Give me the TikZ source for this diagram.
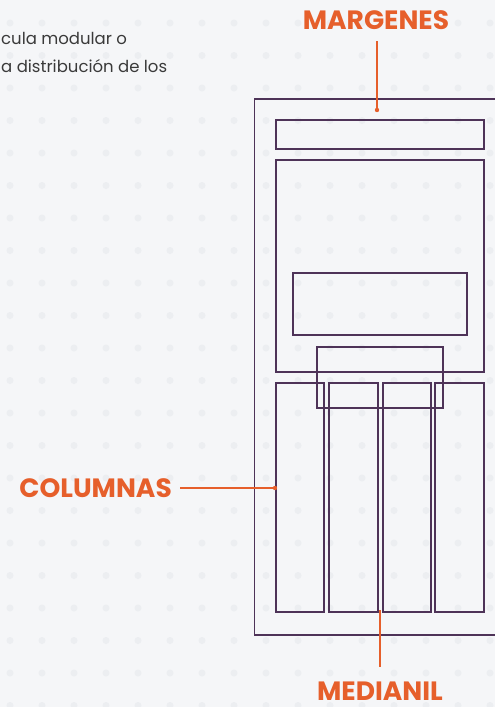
\documentclass[tikz,border=0pt]{standalone}
\usepackage{fontspec}
\setmainfont{Poppins}
\definecolor{plum}{HTML}{4E3358}
\definecolor{tangerine}{HTML}{E65F2B}
\definecolor{paper}{HTML}{F5F6F8}
\definecolor{speck}{HTML}{ECEEF1}
\definecolor{ink}{HTML}{3A3A3A}
\tikzset{
  frame/.style={draw=plum,line width=1.6pt},
  callout/.style={draw=tangerine,line width=1.6pt},
  tag/.style={text=tangerine,font=\fontsize{26.5}{27}\selectfont\bfseries,inner sep=0pt,anchor=base},
  prose/.style={text=ink,font=\fontsize{16.5}{18}\selectfont,anchor=base west,inner sep=0pt}
}
\begin{document}
\begin{tikzpicture}[x=1pt,y=-1pt]
  \useasboundingbox (0,0) rectangle (495,707);
  \clip (0,0) rectangle (495,707);
  \fill[paper] (0,0) rectangle (495,707);
  % dot grid
  \foreach \i in {0,...,15}
    \foreach \j in {0,...,21}
      \fill[speck] (10+32*\i,23+32.5*\j) circle (3.5pt);
  % intro text
  \node[prose] (introa) at (1,44) {cula modular o};
  \node[prose] (introb) at (1,72) {a distribución de los};
  % page and grid
  \draw[frame] (254.5,99) rectangle (510,635);
  \draw[frame] (276,120) rectangle (484,149);
  \draw[frame] (276,160) rectangle (484,372);
  \draw[frame] (293,273) rectangle (467,335);
  \draw[frame] (317,347) rectangle (443,408);
  \draw[frame] (276,383) rectangle (324,612);
  \draw[frame] (329,383) rectangle (378,612);
  \draw[frame] (383,383) rectangle (431,612);
  \draw[frame] (435,383) rectangle (484,612);
  \coordinate (margin) at (377,110);
  \coordinate (column) at (275,488);
  \coordinate (gutter) at (380,610);
  % labels
  \node[tag] (margenes) at (376,29) {MARGENES};
  \node[tag,anchor=base east] (columnas) at (172,497) {COLUMNAS};
  \node[tag] (medianil) at (380,700) {MEDIANIL};
  \draw[callout] (377,41) -- (margin);
  \fill[tangerine] (margin) circle (2.2pt);
  \draw[callout] (180,488) -- (column);
  \fill[tangerine] (column) circle (2.2pt);
  \draw[callout] (gutter) -- (380,667);
\end{tikzpicture}
\end{document}
